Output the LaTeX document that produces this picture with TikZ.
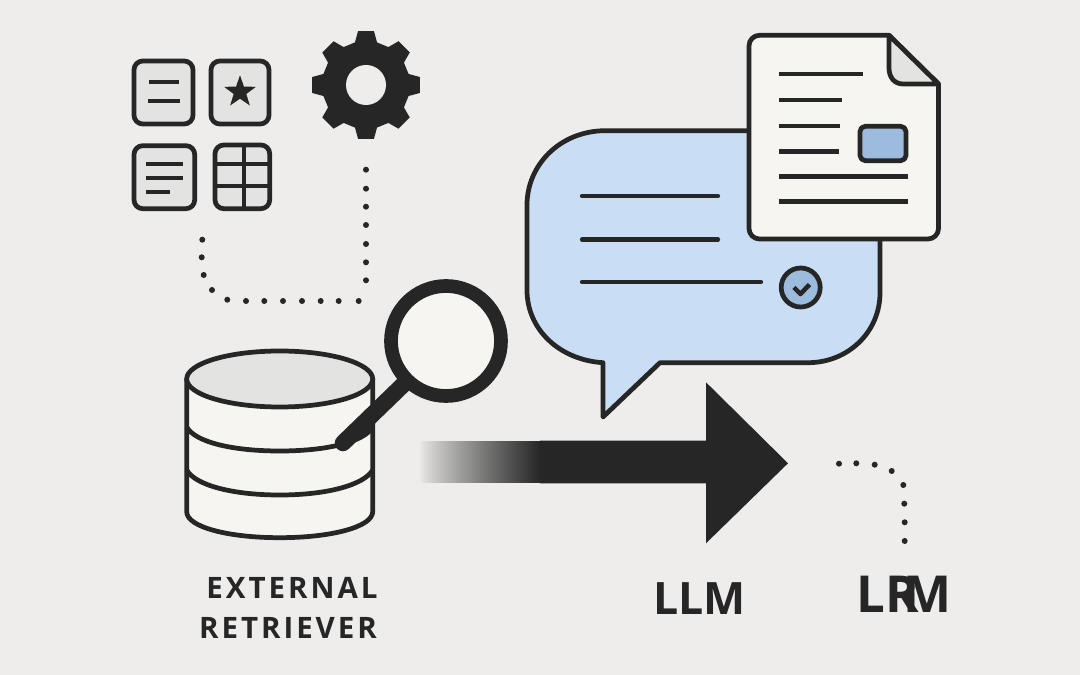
\documentclass[tikz,border=0pt]{standalone}
\usepackage{fontspec}
\usepackage{xcolor}
\usetikzlibrary{calc,positioning,shapes.geometric}
\setmainfont{Open Sans}
\newfontfamily\capfont[LetterSpace=10]{Open Sans}
\definecolor{bgcol}{HTML}{EEEDEB}
\definecolor{inkcol}{HTML}{262626}
\definecolor{papercol}{HTML}{F6F5F1}
\definecolor{greycol}{HTML}{E3E3E1}
\definecolor{bubblecol}{HTML}{C9DDF4}
\definecolor{bluecol}{HTML}{9DBBDC}
\begin{document}
\begin{tikzpicture}[x=0.02cm,y=-0.02cm,
	line join=round,
	thick line/.style={draw=inkcol,line width=2.7pt},
	thin line/.style={draw=inkcol,line width=2.4pt},
	icon box/.style={thick line,fill=greycol,rounded corners=5pt},
	dot mark/.style={fill=inkcol},
	cap label/.style={text=inkcol,inner sep=0pt,font=\capfont\bfseries\fontsize{16.8}{20}\selectfont},
	big label/.style={text=inkcol,inner sep=0pt,font=\bfseries\fontsize{25.4}{30}\selectfont}]
		\fill[bgcol] (0,0) rectangle (1080,675);
		\useasboundingbox (0,0) rectangle (1080,675);

		\draw[icon box] (134,61) rectangle (193,124);
		\draw[thin line] (149,81.7) -- (179,81.7);
		\draw[thin line] (148,101) -- (180,101);
		\draw[icon box] (211,61) rectangle (269,124);
		\node[star,star points=5,star point ratio=2.5,fill=inkcol,inner sep=0pt,minimum size=19pt] (starmark) at (240,92) {};
		\draw[icon box] (134,145.7) rectangle (194.7,208.7);
		\draw[thin line] (146,163.7) -- (183,163.7);
		\draw[thin line] (146,178) -- (183,178);
		\draw[thin line] (146,192) -- (170,192);
		\draw[icon box] (215,145) rectangle (269.7,208.7);
		\draw[thin line] (244,145) -- (244,208.7);
		\draw[thin line] (215,163.7) -- (269.7,163.7);
		\draw[thin line] (215,186) -- (269.7,186);

		\fill[inkcol] ($(366,85)+(-14.5:44)$) \foreach \a in {0,45,...,315} {
			-- ($(366,85)+(\a-14.5:44)$) -- ($(366,85)+(\a-8.4:54.5)$) -- ($(366,85)+(\a+8.4:54.5)$) -- ($(366,85)+(\a+14.5:44)$)
		} -- cycle;
		\fill[bgcol] (366,85) circle (20);

		\foreach \x/\y in {202.3/239.7,201.7/257.3,203.7/275,212/290,227.3/299.7,246/301,264.3/301,283/301,302/301,320.7/301,338.7/301,358.7/301,366/280.3,366/262.3,366/244,366/225,366/206.7,366/188.7,366/169.7}
			\fill[dot mark] (\x,\y) circle (3);
		\foreach \x/\y in {839/463.7,856.3/463.3,874.7/464.7,891.7/471,903.3/485,904.3/503.7,904.7/522.3,904.7/541}
			\fill[dot mark] (\x,\y) circle (3);

		\draw[thick line,fill=papercol] (186.7,379) -- (186.7,511.7) .. controls (186.7,527) and (228,537.7) .. (279.7,537.7) .. controls (331,537.7) and (372.7,527) .. (372.7,511.7) -- (372.7,379) -- cycle;
		\draw[thick line] (186.7,427) .. controls (195,442) and (232,451) .. (279.7,451) .. controls (327,451) and (364,442) .. (372.7,427);
		\draw[thick line] (186.7,470) .. controls (195,485) and (232,495) .. (279.7,495) .. controls (327,495) and (364,485) .. (372.7,470);
		\draw[thick line,fill=greycol] (279.7,379) ellipse (93 and 28);

		\draw[inkcol,line width=9.4pt,line cap=round] (406,382) -- (343,443);
		\draw[inkcol,line width=7.8pt,fill=papercol] (446,341) circle (55);

		\foreach \i in {0,...,60} {
			\pgfmathsetmacro{\pct}{100*((\i+1)/61)^0.85}
			\fill[inkcol!\pct!bgcol] (420+2*\i,440.7) rectangle (422.5+2*\i,483.3);
		}
		\fill[inkcol] (540,440.7) -- (706,440.7) -- (706,382.3) -- (788,463.3) -- (706,543.3) -- (706,483.3) -- (540,483.3) -- cycle;

		\draw[thick line,fill=bubblecol] (605,130.7) -- (808,130.7) .. controls (848,130.7) and (880,165) .. (880,205) -- (880,293) .. controls (880,332) and (848,362.7) .. (808,362.7) -- (660,362.7) -- (603,417) -- (603,362.7) .. controls (560,360) and (527,330) .. (527,290) -- (527,205) .. controls (527,165) and (560,131) .. (605,130.7) -- cycle;
		\draw[thin line,line cap=round] (582,196) -- (718,196);
		\draw[thin line,line cap=round] (582,239.5) -- (718,239.5);
		\draw[thin line,line cap=round] (582,282) -- (761,282);
		\draw[thick line,fill=bluecol] (800.7,287.5) circle (19.5);
		\draw[inkcol,line width=2.6pt] (794,287.5) -- (800.5,294) -- (809.5,284.5);

		\draw[thick line,fill=papercol,rounded corners=6pt] (800,35.3) [sharp corners] -- (889,35.3) -- (938.5,84) [rounded corners=6pt] -- (938.5,239) -- (749,239) -- (749,35.3) -- cycle;
		\draw[thick line,fill=greycol] (889,35.3) -- (889,68) .. controls (889,78) and (895,84) .. (903,84) -- (938.5,84) -- cycle;
		\draw[thin line] (779,74) -- (863,74);
		\draw[thin line] (779,100) -- (842,100);
		\draw[thin line] (779,126) -- (840,126);
		\draw[thin line] (779,151.5) -- (839,151.5);
		\draw[thin line] (779,176.5) -- (908,176.5);
		\draw[thin line] (779,201.5) -- (908,201.5);
		\draw[thick line,fill=bluecol,rounded corners=3pt] (860,126.3) rectangle (906,160.7);

		\node[cap label] (externallabel) at (292,587.5) {EXTERNAL};
		\node[cap label] (retrieverlabel) at (288,627.5) {RETRIEVER};
		\node[big label] (llmlabel) at (699.5,599) {LLM};
		\node[big label,font=\bfseries\fontsize{29}{30}\selectfont] (lrmlabel) at (904,594) {L\kern0pt R\kern-9pt M};
		\end{tikzpicture}
\end{document}
